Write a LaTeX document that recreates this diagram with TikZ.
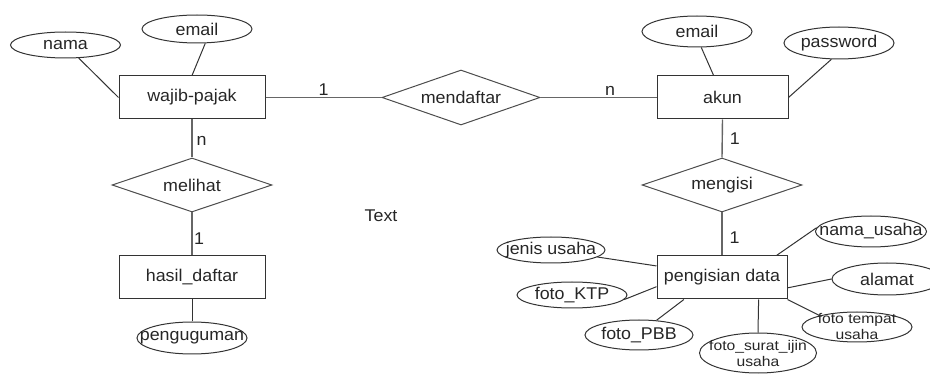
\documentclass[tikz,border=0pt]{standalone}
\usepackage{fontspec}
\setmainfont{Liberation Sans}[FakeStretch=1.05]
\newfontfamily\kecilfont{Liberation Sans}[FakeStretch=1.12]
\usetikzlibrary{shapes.geometric}

\begin{document}
\begin{tikzpicture}[x=1pt, y=-1pt,
        every node/.style={text=black!85, font=\fontsize{17}{20}\selectfont},
        entitas/.style={draw=black!80, line width=1pt, rectangle, minimum height=43pt, inner sep=0pt},
        relasi/.style={draw=black!70, line width=1pt, diamond, aspect=3, minimum width=160pt, minimum height=54pt, inner sep=0pt},
        atribut/.style={draw=black!80, line width=1pt, ellipse, minimum width=110pt, minimum height=28pt, inner sep=0pt},
        kecil/.style={font=\kecilfont\fontsize{14}{16}\selectfont, align=center},
        garis/.style={draw=black!80, line width=1pt},
        kardinal/.style={draw=black!60, line width=1.4pt}]
        \useasboundingbox (0,0) rectangle (930,374);

        % entitas
        \node[entitas, minimum width=146pt] (wajib) at (192,97.5) {wajib-pajak};
        \node[entitas, minimum width=131pt] (akun) at (722.5,97.5) {akun};
        \node[entitas, minimum width=146pt] (hasil) at (192,277.5) {hasil\_daftar};
        \node[entitas, minimum width=130pt] (isian) at (722,277.5) {pengisian data};

        % relasi
        \node[relasi, minimum width=158pt, minimum height=55pt] (daftar) at (461,97.5) {mendaftar};
        \node[relasi] (lihat) at (192,185) {melihat};
        \node[relasi] (isi) at (722,185) {mengisi};

        \node (teks) at (381,216) {Text};

        % atribut
        \node[atribut, minimum height=26pt, label={center:nama}] (nama) at (65.5,45) {};
        \node[atribut, label={center:email}] (email) at (197,29) {};
        \node[atribut, minimum height=31pt, label={center:email}] (emailakun) at (697,31.5) {};
        \node[atribut, minimum height=32pt, label={center:password}] (password) at (839,43) {};
        \node[atribut, minimum height=32pt, label={center:penguguman}] (penguguman) at (192,338) {};

        \node[atribut, minimum width=111pt, minimum height=31pt, label={center:nama\_usaha}] (namausaha) at (871,231.5) {};
        \node[atribut, minimum width=108pt, minimum height=26pt, label={center:jenis usaha}] (jenis) at (551,250) {};
        \node[atribut, minimum height=26pt, label={center:foto\_KTP}] (ktp) at (572,295) {};
        \node[atribut, minimum width=108pt, minimum height=30pt, label={center:foto\_PBB}] (pbb) at (639,335) {};
        \node[atribut, minimum height=32pt, label={center:alamat}] (alamat) at (887,279) {};
        \node[atribut, minimum height=30pt, label={[kecil]center:foto tempat\\usaha}] (tempat) at (857,327) {};
        \node[atribut, minimum width=117pt, minimum height=40pt, label={[kecil]center:foto\_surat\_ijin\\usaha}] (surat) at (758,353) {};

        % garis atribut
        \draw[garis] (nama) -- (wajib.west);
        \draw[garis] (email.-60) -- (wajib.north);
        \draw[garis] (emailakun.-75) -- (akun.112);
        \draw[garis] (password.-115) -- (akun.east);
        \draw[garis] (hasil.south) -- (penguguman.north);
        \draw[garis] (namausaha.176) -- (isian.22);
        \draw[garis] (jenis) -- (isian.170);
        \draw[garis] (ktp.-5) -- (isian.-172);
        \draw[garis] (pbb.40) -- (isian.-150);
        \draw[garis] (surat.north) -- (isian.-31);
        \draw[garis] (tempat.163) -- (isian.south east);
        \draw[garis] (alamat.west) -- (isian.-9);

        % garis relasi
        \draw[kardinal] (wajib.east) -- node[above, inner sep=1pt] {1} (daftar.west);
        \draw[kardinal] (daftar.east) -- node[above, pos=0.6, inner sep=1pt] {n} (akun.west);
        \draw[kardinal] (wajib.south) -- node[right, pos=0.56, inner sep=4pt] {n} (lihat.north);
        \draw[kardinal] (lihat.south) -- node[right, pos=0.6, inner sep=1.5pt] {1} (hasil.north);
        \draw[kardinal] (akun.south) -- node[right, pos=0.51, inner sep=7pt] {1} (isi.north);
        \draw[kardinal] (isi.south) -- node[right, pos=0.59, inner sep=7pt] {1} (isian.north);

    \end{tikzpicture}
\end{document}
